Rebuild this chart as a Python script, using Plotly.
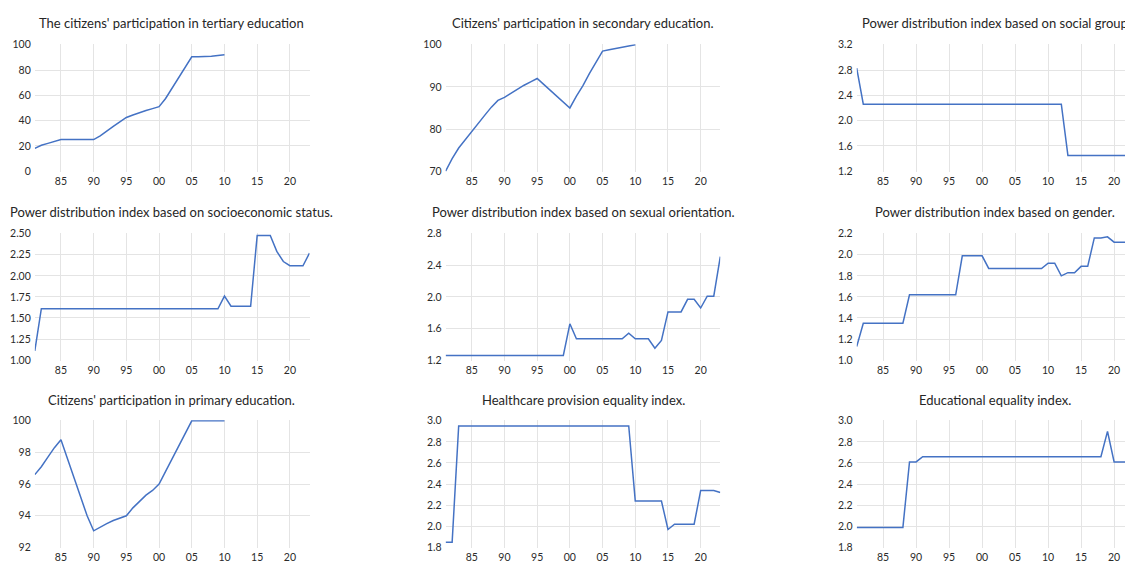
import plotly.graph_objects as go

# ---------------- data ----------------
years_full = list(range(1981, 2024))
years_short = list(range(1981, 2011))

tertiary = [18, 20.5, 22, 23.5, 25, 25, 25, 25, 25, 25,
            28, 32, 35.5, 39, 42.5, 44.5, 46.5, 48, 49.5, 51,
            57.5, 66, 74.5, 82, 90.5, 90.5, 90.5, 91, 91.5, 92]

secondary = [70, 73, 75.5, 77.5, 79.5, 81.5, 83.3, 85.2, 86.8, 87.5,
             88.5, 89.5, 90.4, 91.2, 92, 90.6, 89.2, 87.8, 86.4, 85,
             87.8, 90.3, 93.2, 96, 98.5, 98.8, 99.1, 99.4, 99.7, 100]

social_group = [2.83] + [2.26] * 31 + [1.45] * 11

socioeconomic = [1.11] + [1.61] * 28 + [1.76, 1.64, 1.64, 1.64, 1.64,
                 2.48, 2.48, 2.48, 2.29, 2.17, 2.12, 2.12, 2.12, 2.27]

sexual_orientation = [1.26] * 19 + [1.66] + [1.47] * 8 + [1.54, 1.47, 1.47, 1.47,
                      1.35, 1.45, 1.81, 1.81, 1.81, 1.97, 1.97, 1.86, 2.01, 2.01, 2.51]

gender = [1.13] + [1.35] * 7 + [1.62] * 8 + [1.99] * 4 + [1.87] * 9 + \
         [1.92, 1.92, 1.80, 1.83, 1.83, 1.89, 1.89, 2.16, 2.16, 2.17, 2.12, 2.12, 2.12, 2.12]

primary = [96.6, 97.1, 97.7, 98.3, 98.8, 97.6, 96.3, 95.1, 94.0, 93.05,
           93.3, 93.5, 93.7, 93.85, 94.0, 94.5, 94.9, 95.3, 95.6, 96.0,
           96.8, 97.6, 98.4, 99.1, 100, 100, 100, 100, 100, 100]

healthcare = [1.85, 1.85] + [2.95] * 27 + [2.24] * 5 + [1.97] + [2.02] * 4 + \
             [2.34, 2.34, 2.34, 2.32]

educational = [1.99] * 8 + [2.61, 2.61] + [2.66] * 28 + [2.90] + [2.61] * 4

titles = [
    "The citizens' participation in tertiary education",
    "Citizens' participation in secondary education.",
    "Power distribution index based on social group",
    "Power distribution index based on socioeconomic status.",
    "Power distribution index based on sexual orientation.",
    "Power distribution index based on gender.",
    "Citizens' participation in primary education.",
    "Healthcare provision equality index.",
    "Educational equality index.",
]

x_tickvals = [1985, 1990, 1995, 2000, 2005, 2010, 2015, 2020]
x_ticktext = ["85", "90", "95", "00", "05", "10", "15", "20"]

y_ticks = [
    [0, 20, 40, 60, 80, 100],
    [70, 80, 90, 100],
    [1.2, 1.6, 2.0, 2.4, 2.8, 3.2],
    [1.00, 1.25, 1.50, 1.75, 2.00, 2.25, 2.50],
    [1.2, 1.6, 2.0, 2.4, 2.8],
    [1.0, 1.2, 1.4, 1.6, 1.8, 2.0, 2.2],
    [92, 94, 96, 98, 100],
    [1.8, 2.0, 2.2, 2.4, 2.6, 2.8, 3.0],
    [1.8, 2.0, 2.2, 2.4, 2.6, 2.8, 3.0],
]
y_formats = [".0f", ".0f", ".1f", ".2f", ".1f", ".1f", ".0f", ".1f", ".1f"]

series = [
    (years_short, tertiary), (years_short, secondary), (years_full, social_group),
    (years_full, socioeconomic), (years_full, sexual_orientation), (years_full, gender),
    (years_short, primary), (years_full, healthcare), (years_full, educational),
]

# ---------------- layout geometry (pixels) ----------------
W, H = 1125, 565
col_px = [(34.8, 309.5, 2023.0), (445.6, 720.3, 2023.0), (856.7, 1125.0, 2021.65)]
row_px = [(39.0, 169.0), (231.7, 361.7), (422.5, 552.7)]
title_y_px = [17, 210, 402]
title_x_px = [171.5, 583.0, 995.3]

LINE = "#4472C4"
GRID = "#E4E4E4"
TXT = "#2B2B2B"
FONT = "Lato"

fig = go.Figure()
annotations = []
for i, ((xs, ys), title) in enumerate(zip(series, titles)):
    r, c = divmod(i, 3)
    n = i + 1
    xa = "x" if n == 1 else f"x{n}"
    ya = "y" if n == 1 else f"y{n}"
    fig.add_trace(go.Scatter(x=xs, y=ys, mode="lines", xaxis=xa, yaxis=ya,
                             line=dict(color=LINE, width=1.5), showlegend=False,
                             hoverinfo="x+y"))
    x0, x1, xend = col_px[c]
    top, bot = row_px[r]
    tv = y_ticks[i]
    span = tv[-1] - tv[0]
    pad = span * 0.004
    fig.layout[f"xaxis{'' if n == 1 else n}"] = dict(
        domain=[x0 / W, x1 / W], range=[1981, xend], anchor=ya,
        tickmode="array", tickvals=x_tickvals, ticktext=x_ticktext,
        showgrid=True, gridcolor=GRID, gridwidth=1.3, zeroline=False,
        showline=False, ticks="", ticklabelstandoff=2,
        tickfont=dict(family=FONT, size=10.5, color=TXT),
        fixedrange=True,
    )
    fig.layout[f"yaxis{'' if n == 1 else n}"] = dict(
        domain=[1 - bot / H, 1 - top / H], range=[tv[0] - pad, tv[-1] + pad], anchor=xa,
        tickmode="array", tickvals=tv, tickformat=y_formats[i],
        showgrid=False, zeroline=False, showline=False, ticks="", ticklabelstandoff=3,
        minor=dict(tickmode="array", tickvals=tv[1:-1], showgrid=True,
                   gridcolor=GRID, gridwidth=1.3, ticks=""),
        tickfont=dict(family=FONT, size=10.5, color=TXT), fixedrange=True,
    )
    annotations.append(dict(
        text=title, xref="paper", yref="paper", x=title_x_px[c] / W,
        y=1 - title_y_px[r] / H, xanchor="center", yanchor="middle", showarrow=False,
        font=dict(family=FONT, size=13, color="#262626"),
    ))

fig.update_layout(
    width=W, height=H, margin=dict(l=0, r=0, t=0, b=0),
    paper_bgcolor="white", plot_bgcolor="white", annotations=annotations,
)

fig.write_html("out.html", config={"displayModeBar": False},
               post_script="document.body.style.margin='0';document.body.style.padding='0';")
